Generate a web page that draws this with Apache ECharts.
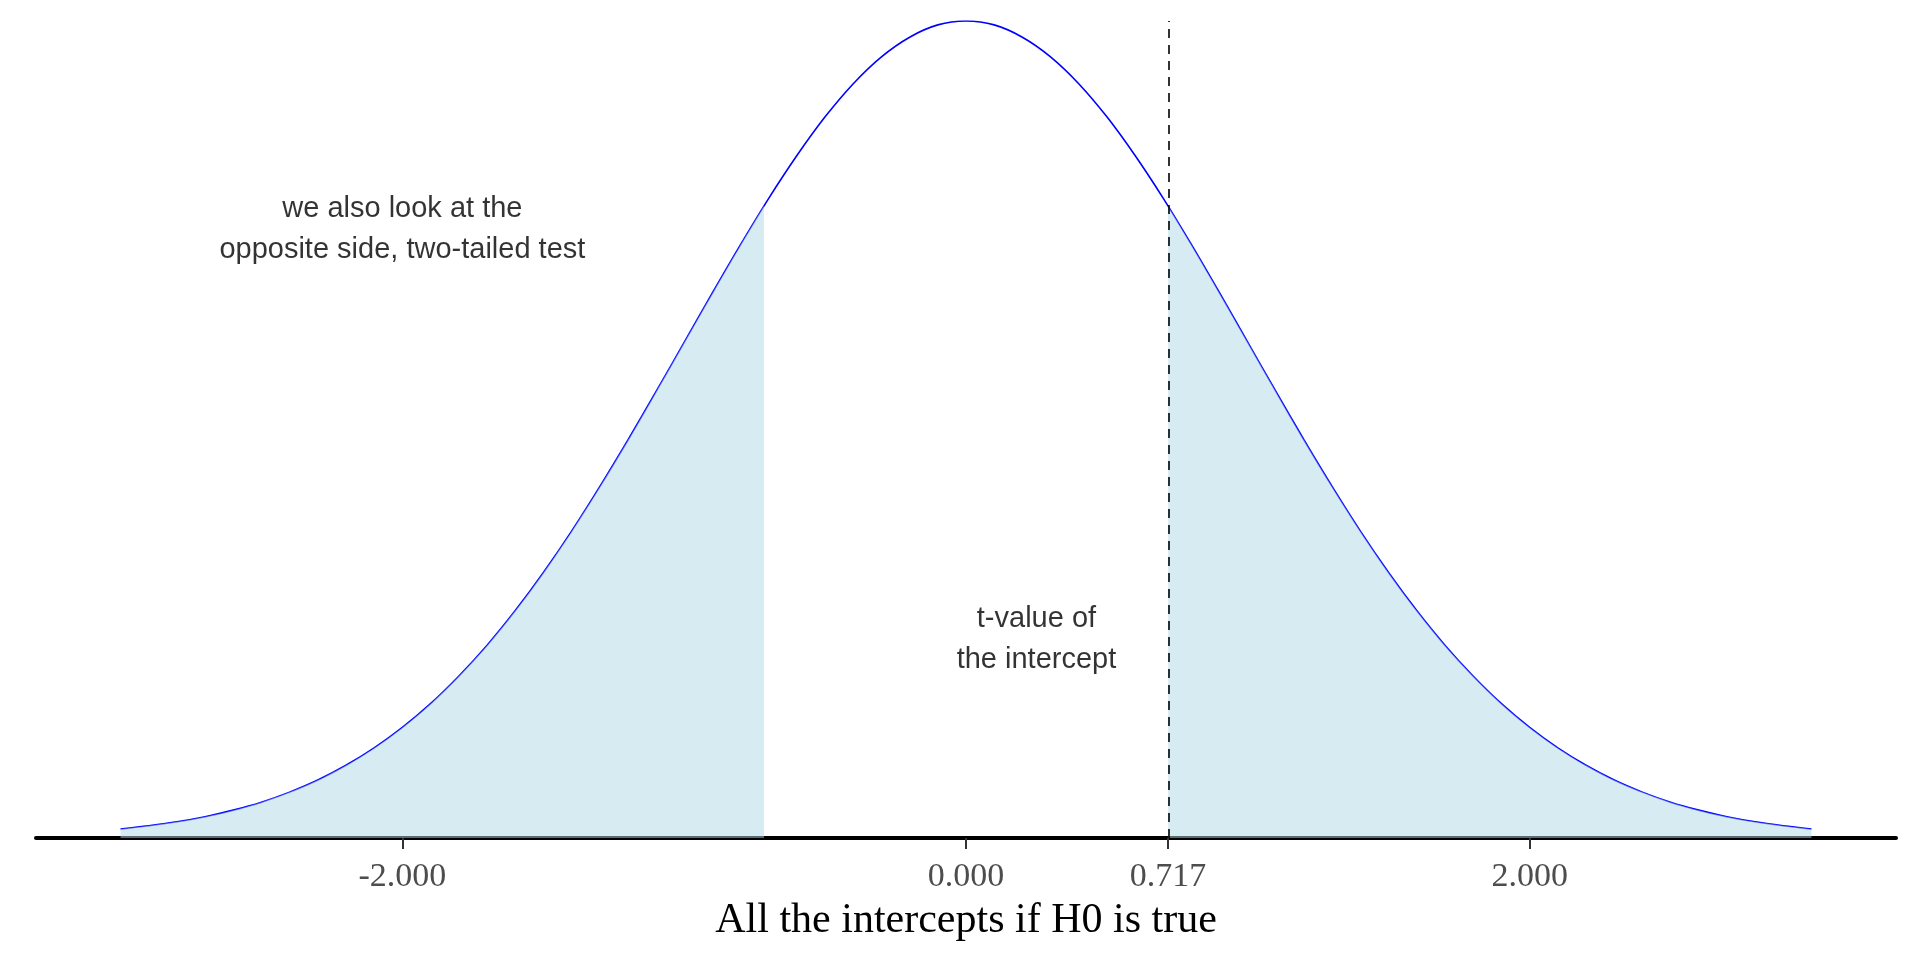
<!DOCTYPE html>
<html>
<head>
<meta charset="utf-8">
<script src="https://cdn.jsdelivr.net/npm/echarts@6/dist/echarts.min.js"></script>
<style>
html,body{margin:0;padding:0;background:#fff;}
#chart{width:1920px;height:960px;}
</style>
</head>
<body>
<div id="chart"></div>
<script>
// x positions of the density curve
const xs = [-3.0,-2.9,-2.8,-2.7,-2.6,-2.5,-2.4,-2.3,-2.2,-2.1,-2.0,-1.9,-1.8,-1.7,-1.6,-1.5,-1.4,-1.3,-1.2,-1.1,-1.0,-0.9,-0.8,-0.7,-0.6,-0.5,-0.4,-0.3,-0.2,-0.1,0.0,
            0.1,0.2,0.3,0.4,0.5,0.6,0.7,0.8,0.9,1.0,1.1,1.2,1.3,1.4,1.5,1.6,1.7,1.8,1.9,2.0,2.1,2.2,2.3,2.4,2.5,2.6,2.7,2.8,2.9,3.0];
// density
const dens = [0.0044,0.0060,0.0079,0.0104,0.0136,0.0175,0.0224,0.0283,0.0355,0.0440,0.0540,0.0656,0.0790,0.0940,0.1109,0.1295,0.1497,0.1714,0.1942,0.2179,0.2420,0.2661,0.2897,0.3123,0.3332,0.3521,0.3683,0.3814,0.3910,0.3970,0.3989,
              0.3970,0.3910,0.3814,0.3683,0.3521,0.3332,0.3123,0.2897,0.2661,0.2420,0.2179,0.1942,0.1714,0.1497,0.1295,0.1109,0.0940,0.0790,0.0656,0.0540,0.0440,0.0355,0.0283,0.0224,0.0175,0.0136,0.0104,0.0079,0.0060,0.0044];
// observed t-value and curve height there
const tValue = 0.717;
const tDensity = 0.3087;
// tick values on the x axis
const tickValues = [-2, 0, 0.717, 2];
// annotations
const noteText = ["we also look at the\nopposite side, two-tailed test", "t-value of\nthe intercept"];
const noteX = [-2, 0.25];
const noteY = [0.297, 0.097];
const axisTitle = "All the intercepts if H0 is true";

const curve = xs.map((x, i) => [x, dens[i]]);
const leftTail = curve.filter(p => p[0] <= -tValue).concat([[-tValue, tDensity]]);
const rightTail = [[tValue, tDensity]].concat(curve.filter(p => p[0] >= tValue));
const notes = noteX.map((x, i) => ({ value: [x, noteY[i]], text: noteText[i] }));

const chart = echarts.init(document.getElementById('chart'), null, { renderer: 'canvas' });
chart.setOption({
  animation: false,
  backgroundColor: '#ffffff',
  grid: { left: 36, right: 24, top: 21, bottom: 122 },
  xAxis: {
    type: 'value', min: -3.3, max: 3.3,
    splitLine: { show: false },
    axisLine: { show: true, onZero: false, lineStyle: { color: '#000', width: 4 } },
    axisTick: { show: true, customValues: tickValues, length: 11, lineStyle: { color: '#333333', width: 2 } },
    axisLabel: {
      customValues: tickValues, margin: 22,
      formatter: v => v.toFixed(3),
      color: '#4D4D4D', fontFamily: 'Liberation Serif', fontSize: 34
    },
    name: axisTitle, nameLocation: 'middle', nameGap: 62,
    nameTextStyle: { color: '#000', fontFamily: 'Liberation Serif', fontSize: 42 }
  },
  yAxis: { type: 'value', min: 0, max: 0.3989, show: false, splitLine: { show: false } },
  series: [
    {
      type: 'line', data: curve, showSymbol: false, smooth: 0.3, z: 2,
      lineStyle: { color: '#0000FF', width: 1.6 },
      markLine: {
        silent: true, symbol: 'none', label: { show: false },
        lineStyle: { color: '#000', type: [9, 7], width: 1.6, opacity: 1 },
        data: [{ xAxis: tValue }]
      }
    },
    {
      type: 'line', data: leftTail, showSymbol: false, smooth: 0.3, z: 3,
      lineStyle: { width: 0, opacity: 0 },
      areaStyle: { color: 'rgba(173,216,230,0.5)', opacity: 1 }
    },
    {
      type: 'line', data: rightTail, showSymbol: false, smooth: 0.3, z: 3,
      lineStyle: { width: 0, opacity: 0 },
      areaStyle: { color: 'rgba(173,216,230,0.5)', opacity: 1 }
    },
    {
      type: 'scatter', data: notes, symbolSize: 0, z: 5, silent: true,
      label: {
        show: true, position: 'inside', formatter: p => p.data.text,
        color: '#000000', fontFamily: 'Liberation Sans', fontSize: 29, lineHeight: 41, align: 'center'
      }
    }
  ]
});
</script>
</body>
</html>
